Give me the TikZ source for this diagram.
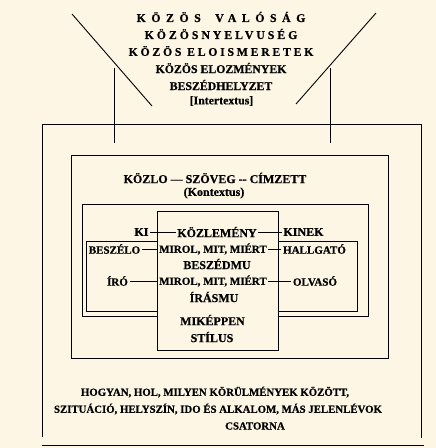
\documentclass[tikz,border=0pt]{standalone}
\usepackage{fontspec}
\setmainfont{Liberation Serif}[BoldFeatures={FakeBold=0.6}]
\definecolor{paper}{HTML}{FDF6E4}
\tikzset{
  frame/.style={draw, line width=0.9pt},
  link/.style={line width=0.9pt},
  headtxt/.style={font=\bfseries\fontsize{11.8}{14}\selectfont, inner sep=0pt},
  bigtxt/.style={font=\bfseries\fontsize{12}{14}\selectfont, inner sep=1.5pt},
  midtxt/.style={font=\bfseries\fontsize{11}{13}\selectfont, inner sep=1.5pt},
  foottxt/.style={font=\bfseries\fontsize{10.8}{13}\selectfont, inner sep=0pt},
}
\begin{document}
\begin{tikzpicture}[x=1pt,y=-1pt]
	\fill[paper] (0,0) rectangle (436,448);
	\useasboundingbox (0,0) rectangle (436,448);
	% felso vonalak
	\draw[frame] (72,14) -- (152,106);
	\draw[frame] (376,13) -- (296,104);
	\draw[frame] (114,68) -- (114,143);
	\draw[frame] (330,68) -- (330,143);
	% kulso keret
	\draw[frame] (42,437) -- (42,124) -- (421,124) -- (421,438);
	\draw[frame] (42,445) -- (424,445);
	% keretek
	\draw[frame] (71,155) rectangle (388,358);
	\draw[frame] (82,204) rectangle (368,316);
	\draw[frame] (86,241) rectangle (357,311);
	\draw[frame, fill=paper] (157,211) rectangle (278,350);
	% fejlec
	\node[headtxt] (valo) at (221,17) {\addfontfeature{LetterSpace=47}KÖZÖS\hspace{6pt} VALÓSÁG};
	\node[headtxt] (nyelv) at (221,34) {\addfontfeature{LetterSpace=25}KÖZÖSNYELVUSÉG};
	\node[headtxt] (elois) at (221,51) {\addfontfeature{LetterSpace=23}KÖZÖS ELOISMERETEK};
	\node[headtxt] (elozm) at (221,68) {KÖZÖS ELOZMÉNYEK};
	\node[headtxt] (beszh) at (221,85) {BESZÉDHELYZET};
	\node[headtxt] (inter) at (221.5,101) {[Intertextus]};
	% kontextus
	\node[bigtxt] (kszc) at (215,178) {KÖZLO — SZÖVEG -{}- CÍMZETT};
	\node[bigtxt] (kont) at (214,193) {(Kontextus)};
	\node[bigtxt] (ki) at (141.5,232) {KI};
	\node[bigtxt] (kozl) at (217,232) {KÖZLEMÉNY};
	\node[bigtxt] (kinek) at (303.5,232) {KINEK};
	\node[midtxt] (besz) at (114.5,249) {BESZÉLO};
	\node[midtxt] (mirol) at (213,249) {MIROL, MIT, MIÉRT};
	\node[midtxt] (hall) at (314.5,249) {HALLGATÓ};
	\node[bigtxt] (bmu) at (217,264) {BESZÉDMU};
	\node[midtxt] (iro) at (117.5,281) {ÍRÓ};
	\node[midtxt] (mirolb) at (213,281) {MIROL, MIT, MIÉRT};
	\node[midtxt] (olv) at (315,281) {OLVASÓ};
	\node[bigtxt] (imu) at (214,297) {ÍRÁSMU};
	\node[bigtxt] (mik) at (212.5,320) {MIKÉPPEN};
	\node[bigtxt] (stil) at (212,337) {STÍLUS};
	\path[link] (ki) edge (kozl);
	\path[link] (kozl) edge (kinek);
	\path[link] (besz) edge (mirol);
	\path[link] (mirol) edge (hall);
	\path[link] (iro) edge (mirolb);
	\path[link] (mirolb) edge (olv);
	% also szoveg
	\node[foottxt] (hogy) at (215,392) {HOGYAN, HOL, MILYEN KÖRÜLMÉNYEK KÖZÖTT,};
	\node[foottxt] (szit) at (218,409) {SZITUÁCIÓ, HELYSZÍN, IDO ÉS ALKALOM, MÁS JELENLÉVOK};
	\node[foottxt] (csat) at (255,426) {CSATORNA};
\end{tikzpicture}
\end{document}
